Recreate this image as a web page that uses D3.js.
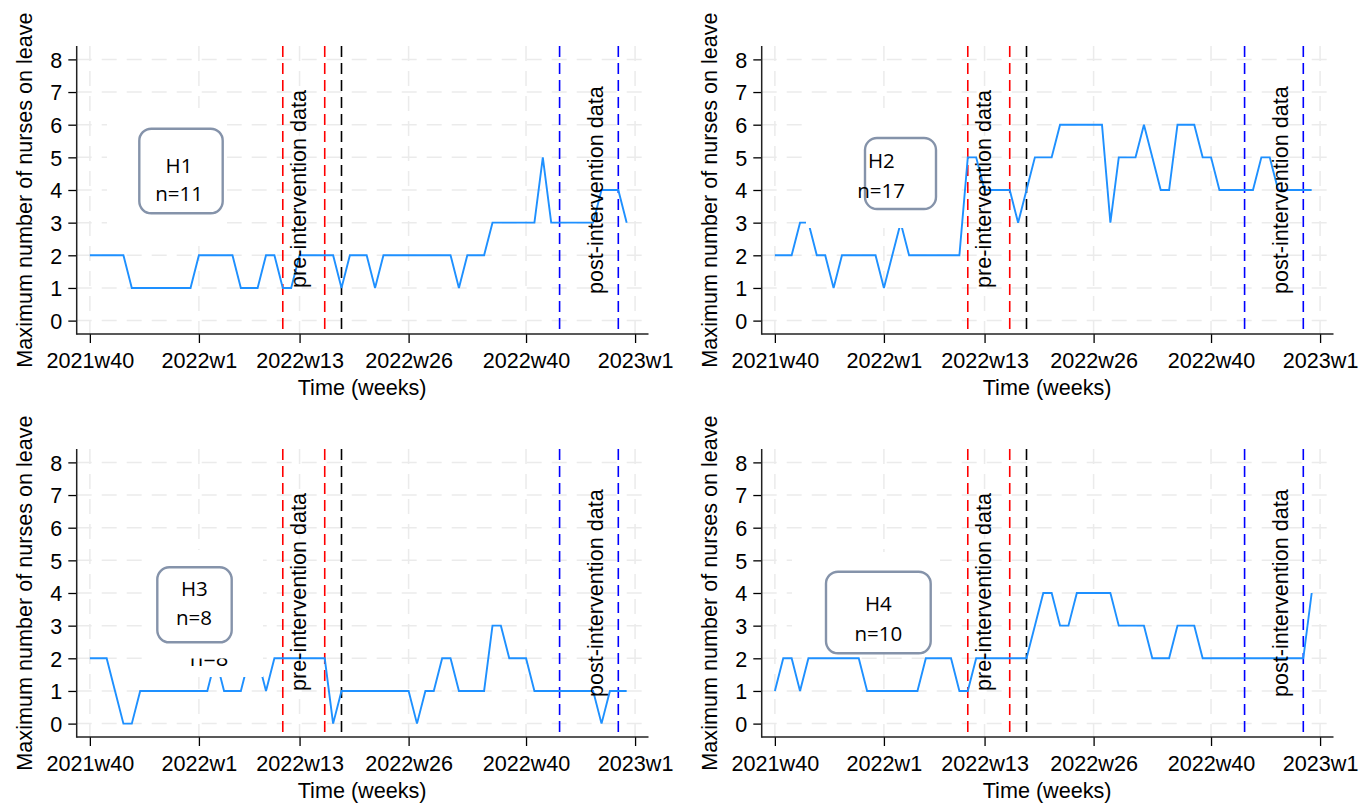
<!DOCTYPE html>
<html>
<head>
<meta charset="utf-8">
<script src="https://cdn.jsdelivr.net/npm/d3@7"></script>
<style>
  html, body { margin: 0; padding: 0; background: #ffffff; }
  svg { display: block; }
</style>
</head>
<body>
<svg id="chart" width="1361" height="806"></svg>
<script>
// Weekly maximum number of nurses on leave per hospital, 2021w40 .. 2022w52
// (week index 0 = 2021w40, 13 = 2022w1, 65 = 2023w1)
const tickWeeks  = [0, 13, 25, 38, 52, 65];
const tickLabels = ["2021w40", "2022w1", "2022w13", "2022w26", "2022w40", "2023w1"];
const yTicks     = [0, 1, 2, 3, 4, 5, 6, 7, 8];

const hospitals  = ["H1", "H2", "H3", "H4"];
const nurseCount = [11, 17, 8, 10];

const h1 = [2,2,2,2,2, 1,1,1,1,1,1,1,1, 2,2,2,2,2, 1,1,1, 2,2, 1,1, 2,2,2,2,2, 1, 2,2,2, 1,
            2,2,2,2,2,2,2,2,2, 1, 2,2,2, 3,3,3,3,3,3, 5, 3,3,3,3,3,3, 4,4,4, 3];
const h2 = [2,2,2, 3,3, 2,2, 1, 2,2,2,2,2, 1, 2, 3, 2,2,2,2,2,2,2, 5,5, 4,4,4,4, 3, 4, 5,5,5,
            6,6,6,6,6,6, 3, 5,5,5, 6, 5, 4,4, 6,6,6, 5,5, 4,4,4,4,4, 5,5, 4,4,4,4,4];
const h3 = [2,2,2, 1, 0,0, 1,1,1,1,1,1,1,1,1, 2, 1,1,1, 2,2, 1, 2,2,2,2,2,2,2, 0, 1,1,1,1,1,1,1,1,1,
            0, 1,1, 2,2, 1,1,1,1, 3,3, 2,2,2, 1,1,1,1,1,1,1,1, 0, 1,1,1];
const h4 = [1, 2,2, 1, 2,2,2,2,2,2,2, 1,1,1,1,1,1,1, 2,2,2,2, 1,1, 2,2,2,2,2,2,2, 3, 4,4, 3,3,
            4,4,4,4,4, 3,3,3,3, 2,2,2, 3,3,3, 2,2,2,2,2,2,2,2,2,2,2,2,2, 4];
const series = [h1, h2, h3, h4];

// Study period markers (week index)
const preWeeks   = [23, 28];   // 2022w11, 2022w16
const startWeek  = [30];       // 2022w18
const postWeeks  = [56, 63];   // 2022w44, 2022w51

const svg = d3.select("#chart");
svg.append("rect").attr("width", 1361).attr("height", 806).attr("fill", "#ffffff");

const AX_FONT = "'Liberation Sans', Arial, sans-serif";
const BOX_FONT = "'Open Sans', 'Noto Sans', sans-serif";

// plot box inside each panel
const plotLeft = 76.7, plotRight = 648.5, plotTop = 46, plotBottom = 334;

const x = d3.scaleLinear().domain([-1.57, 66.6]).range([plotLeft, plotRight]);
const y = d3.scaleLinear().domain([-0.41, 8.41]).range([plotBottom, plotTop]);

// panel placement and label box layout
const panels = [
  { dx: 0,   dy: 0,
    bg:  [107, 108, 120, 130],
    box: [139.3, 128.7, 83.4, 84.6],
    t1: [179, 165, "middle"], t2: [179, 193, "middle"] },
  { dx: 685, dy: 0,
    bg:  [121, 108, 152, 120],
    box: [180, 138, 71, 71],
    t1: [183, 160, "start"], t2: [172.2, 190, "start"] },
  { dx: 0,   dy: 403,
    bg:  [150, 147, 113, 127],
    box: [157.3, 164.3, 74.4, 75],
    t1: [194.3, 185.3, "middle"], t2: [194, 214.3, "middle"],
    ghost: [209, 262.5, 255.5] },
  { dx: 685, dy: 403,
    bg:  [107, 149, 148, 102],
    box: [141, 168.7, 104.7, 81.6],
    t1: [193.3, 200.3, "middle"], t2: [193.3, 230.3, "middle"] }
];

panels.forEach((p, i) => {
  const g = svg.append("g").attr("transform", `translate(${p.dx},${p.dy})`);

  // grid
  const grid = g.append("g").attr("stroke", "#ebebeb").attr("stroke-width", 1.5)
    .attr("stroke-dasharray", "15,10");
  grid.selectAll(".gy").data(yTicks).join("line")
    .attr("x1", plotLeft).attr("x2", plotRight)
    .attr("y1", d => y(d)).attr("y2", d => y(d));
  grid.selectAll(".gx").data(tickWeeks).join("line")
    .attr("x1", d => x(d)).attr("x2", d => x(d))
    .attr("y1", plotTop).attr("y2", plotBottom);

  // period markers
  const marks = [
    ...preWeeks.map(w => ({ w, c: "#ff0000" })),
    ...startWeek.map(w => ({ w, c: "#000000" })),
    ...postWeeks.map(w => ({ w, c: "#0000ff" }))
  ];
  g.selectAll(".mk").data(marks).join("line")
    .attr("x1", d => x(d.w)).attr("x2", d => x(d.w))
    .attr("y1", plotTop).attr("y2", plotBottom)
    .attr("stroke", d => d.c).attr("stroke-width", 1.6)
    .attr("stroke-dasharray", "11,6");

  // data line
  const line = d3.line().x((d, k) => x(k)).y(d => y(d));
  g.append("path").datum(series[i])
    .attr("d", line)
    .attr("fill", "none")
    .attr("stroke", "#1e90ff")
    .attr("stroke-width", 1.9)
    .attr("stroke-linejoin", "miter");

  // label background
  g.append("rect")
    .attr("x", p.bg[0]).attr("y", p.bg[1]).attr("width", p.bg[2]).attr("height", p.bg[3])
    .attr("fill", "#ffffff");

  if (p.ghost) {
    const clipId = "ghostclip" + i;
    g.append("clipPath").attr("id", clipId)
      .append("rect").attr("x", 0).attr("y", p.ghost[2]).attr("width", 650).attr("height", 40);
    g.append("text")
      .attr("clip-path", `url(#${clipId})`)
      .attr("x", p.ghost[0]).attr("y", p.ghost[1])
      .attr("text-anchor", "middle")
      .attr("font-family", BOX_FONT).attr("font-size", 22)
      .attr("fill", "#000")
      .text("n=" + nurseCount[i]);
  }

  // axes
  const yAxis = d3.axisLeft(y).tickValues(yTicks).tickSize(8.4).tickPadding(6);
  const ya = g.append("g").attr("transform", `translate(${plotLeft},0)`).call(yAxis);
  const xAxis = d3.axisBottom(x).tickValues(tickWeeks).tickFormat((d, k) => tickLabels[k])
    .tickSize(9).tickPadding(10);
  const xa = g.append("g").attr("transform", `translate(0,${plotBottom})`).call(xAxis);
  [ya, xa].forEach(a => {
    a.select(".domain").remove();
    a.selectAll(".tick line").attr("stroke", "#000").attr("stroke-width", 1.3);
    a.selectAll(".tick text").attr("font-family", AX_FONT).attr("font-size", 21.6)
      .attr("fill", "#000");
  });
  ya.selectAll(".tick text").attr("dy", "0.36em");
  g.append("line").attr("x1", plotLeft).attr("x2", plotLeft)
    .attr("y1", plotTop).attr("y2", plotBottom + 0.7)
    .attr("stroke", "#222").attr("stroke-width", 1.5);
  g.append("line").attr("x1", plotLeft).attr("x2", plotRight)
    .attr("y1", plotBottom).attr("y2", plotBottom)
    .attr("stroke", "#222").attr("stroke-width", 1.5);

  // axis titles
  g.append("text")
    .attr("transform", `translate(31.5,${(plotTop + plotBottom) / 2}) rotate(-90)`)
    .attr("text-anchor", "middle")
    .attr("font-family", AX_FONT).attr("font-size", 21.6).attr("fill", "#000")
    .text("Maximum number of nurses on leave");
  g.append("text")
    .attr("x", (plotLeft + plotRight) / 2 - 0.5).attr("y", 395)
    .attr("text-anchor", "middle")
    .attr("font-family", AX_FONT).attr("font-size", 21.6).attr("fill", "#000")
    .text("Time (weeks)");

  // period annotations
  g.append("text")
    .attr("transform", `translate(306,288) rotate(-90)`)
    .attr("font-family", AX_FONT).attr("font-size", 21.6).attr("fill", "#000")
    .text("pre-intervention data");
  g.append("text")
    .attr("transform", `translate(603,294) rotate(-90)`)
    .attr("font-family", AX_FONT).attr("font-size", 21.6).attr("fill", "#000")
    .text("post-intervention data");

  // hospital label box
  g.append("rect")
    .attr("x", p.box[0]).attr("y", p.box[1]).attr("width", p.box[2]).attr("height", p.box[3])
    .attr("rx", 12).attr("ry", 12)
    .attr("fill", "#ffffff").attr("stroke", "#8593aa").attr("stroke-width", 2.4);
  g.append("text")
    .attr("x", p.t1[0]).attr("y", p.t1[1]).attr("text-anchor", p.t1[2])
    .attr("dominant-baseline", "central")
    .attr("font-family", BOX_FONT).attr("font-size", 20.5).attr("fill", "#000")
    .text(hospitals[i]);
  g.append("text")
    .attr("x", p.t2[0]).attr("y", p.t2[1]).attr("text-anchor", p.t2[2])
    .attr("dominant-baseline", "central")
    .attr("font-family", BOX_FONT).attr("font-size", 20.5).attr("fill", "#000")
    .text("n=" + nurseCount[i]);
});
</script>
</body>
</html>
